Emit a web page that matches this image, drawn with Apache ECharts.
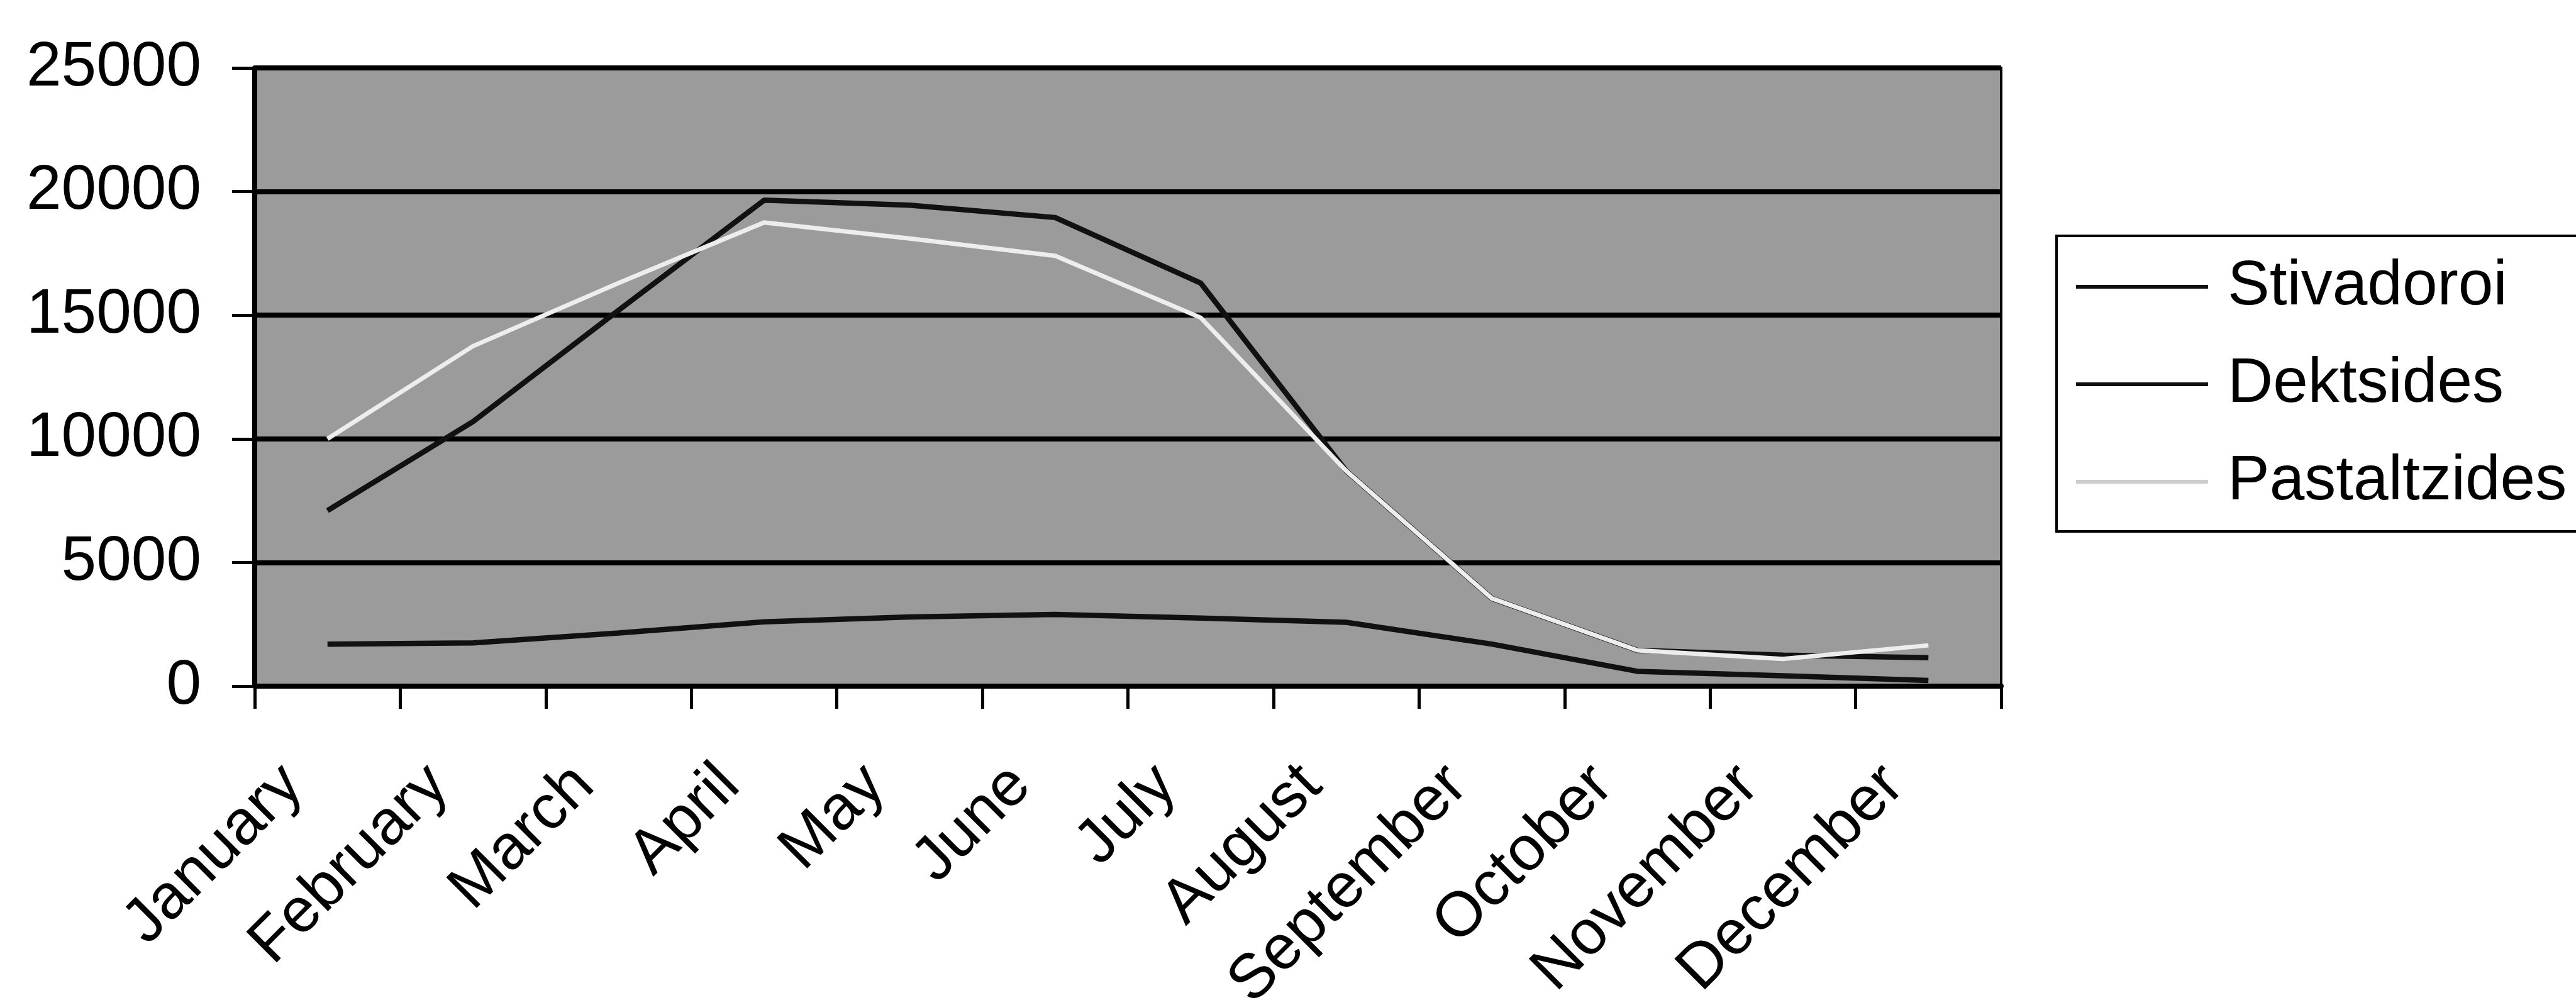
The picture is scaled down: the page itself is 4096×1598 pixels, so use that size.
<!DOCTYPE html>
<html>
<head>
<meta charset="utf-8">
<script src="https://cdn.jsdelivr.net/npm/echarts@6/dist/echarts.min.js"></script>
<style>
  html, body { margin: 0; padding: 0; background: #ffffff; }
  #chart { width: 4096px; height: 1598px; }
</style>
</head>
<body>
<div id="chart"></div>
<script>
// Monthly workforce counts by category
const months = ['January', 'February', 'March', 'April', 'May', 'June',
  'July', 'August', 'September', 'October', 'November', 'December'];
const stivadoroi   = [7100, 10700, 15200, 19650, 19450, 18950, 16300, 8700, 3550, 1450, 1250, 1150];
const dektsides    = [1700, 1750, 2150, 2600, 2800, 2900, 2750, 2580, 1700, 600, 420, 230];
const pastaltzides = [10000, 13750, 16300, 18750, 18100, 17400, 14900, 8700, 3550, 1450, 1100, 1650];
const yTicks = [0, 5000, 10000, 15000, 20000, 25000];

const FONT = "'Liberation Sans', Arial, sans-serif";

const chart = echarts.init(document.getElementById('chart'), null, { renderer: 'canvas' });

chart.setOption({
  animation: false,
  backgroundColor: '#ffffff',
  grid: {
    left: 405, top: 108, width: 2777, height: 983,
    containLabel: false,
    outerBoundsMode: 'none',
    show: true,
    backgroundColor: '#9b9b9b',
    borderColor: '#000000',
    borderWidth: 4
  },
  xAxis: {
    type: 'category',
    data: months,
    boundaryGap: true,
    axisLine: { show: true, lineStyle: { color: '#000', width: 8 } },
    axisTick: { show: true, length: 36, lineStyle: { color: '#000', width: 5 } },
    axisLabel: {
      interval: 0,
      rotate: 45,
      margin: 88,
      padding: [0, 77, 0, 0],
      fontSize: 100,
      fontFamily: FONT,
      color: '#000'
    },
    splitLine: { show: false }
  },
  yAxis: {
    type: 'value',
    min: yTicks[0],
    max: yTicks[yTicks.length - 1],
    interval: yTicks[1] - yTicks[0],
    axisLine: { show: true, lineStyle: { color: '#000', width: 8 } },
    axisTick: { show: true, length: 36, lineStyle: { color: '#000', width: 5 } },
    axisLabel: {
      margin: 85,
      fontSize: 100,
      fontFamily: FONT,
      color: '#000',
      formatter: v => String(v)
    },
    splitLine: { show: true, lineStyle: { color: '#000', width: 8 } }
  },
  legend: {
    orient: 'vertical',
    left: 3270,
    top: 375,
    icon: 'rect',
    itemWidth: 210,
    itemHeight: 6,
    itemGap: 55,
    padding: [31, 40, 29, 31],
    borderColor: '#000',
    borderWidth: 4,
    borderRadius: 0,
    backgroundColor: '#ffffff',
    selectedMode: false,
    textStyle: {
      fontSize: 100,
      fontFamily: FONT,
      color: '#000',
      lineHeight: 100,
      padding: [0, 0, 0, 26]
    },
    data: [
      { name: 'Stivadoroi' },
      { name: 'Dektsides' },
      { name: 'Pastaltzides', itemStyle: { color: '#cccccc' } }
    ]
  },
  series: [
    {
      name: 'Stivadoroi', type: 'line', data: stivadoroi,
      symbol: 'none', smooth: false,
      lineStyle: { color: '#111111', width: 8.5 },
      itemStyle: { color: '#111111' }
    },
    {
      name: 'Dektsides', type: 'line', data: dektsides,
      symbol: 'none', smooth: false,
      lineStyle: { color: '#111111', width: 8.5 },
      itemStyle: { color: '#111111' }
    },
    {
      name: 'Pastaltzides', type: 'line', data: pastaltzides,
      symbol: 'none', smooth: false,
      lineStyle: { color: '#ededed', width: 7 },
      itemStyle: { color: '#ededed' }
    }
  ]
});
</script>
</body>
</html>
